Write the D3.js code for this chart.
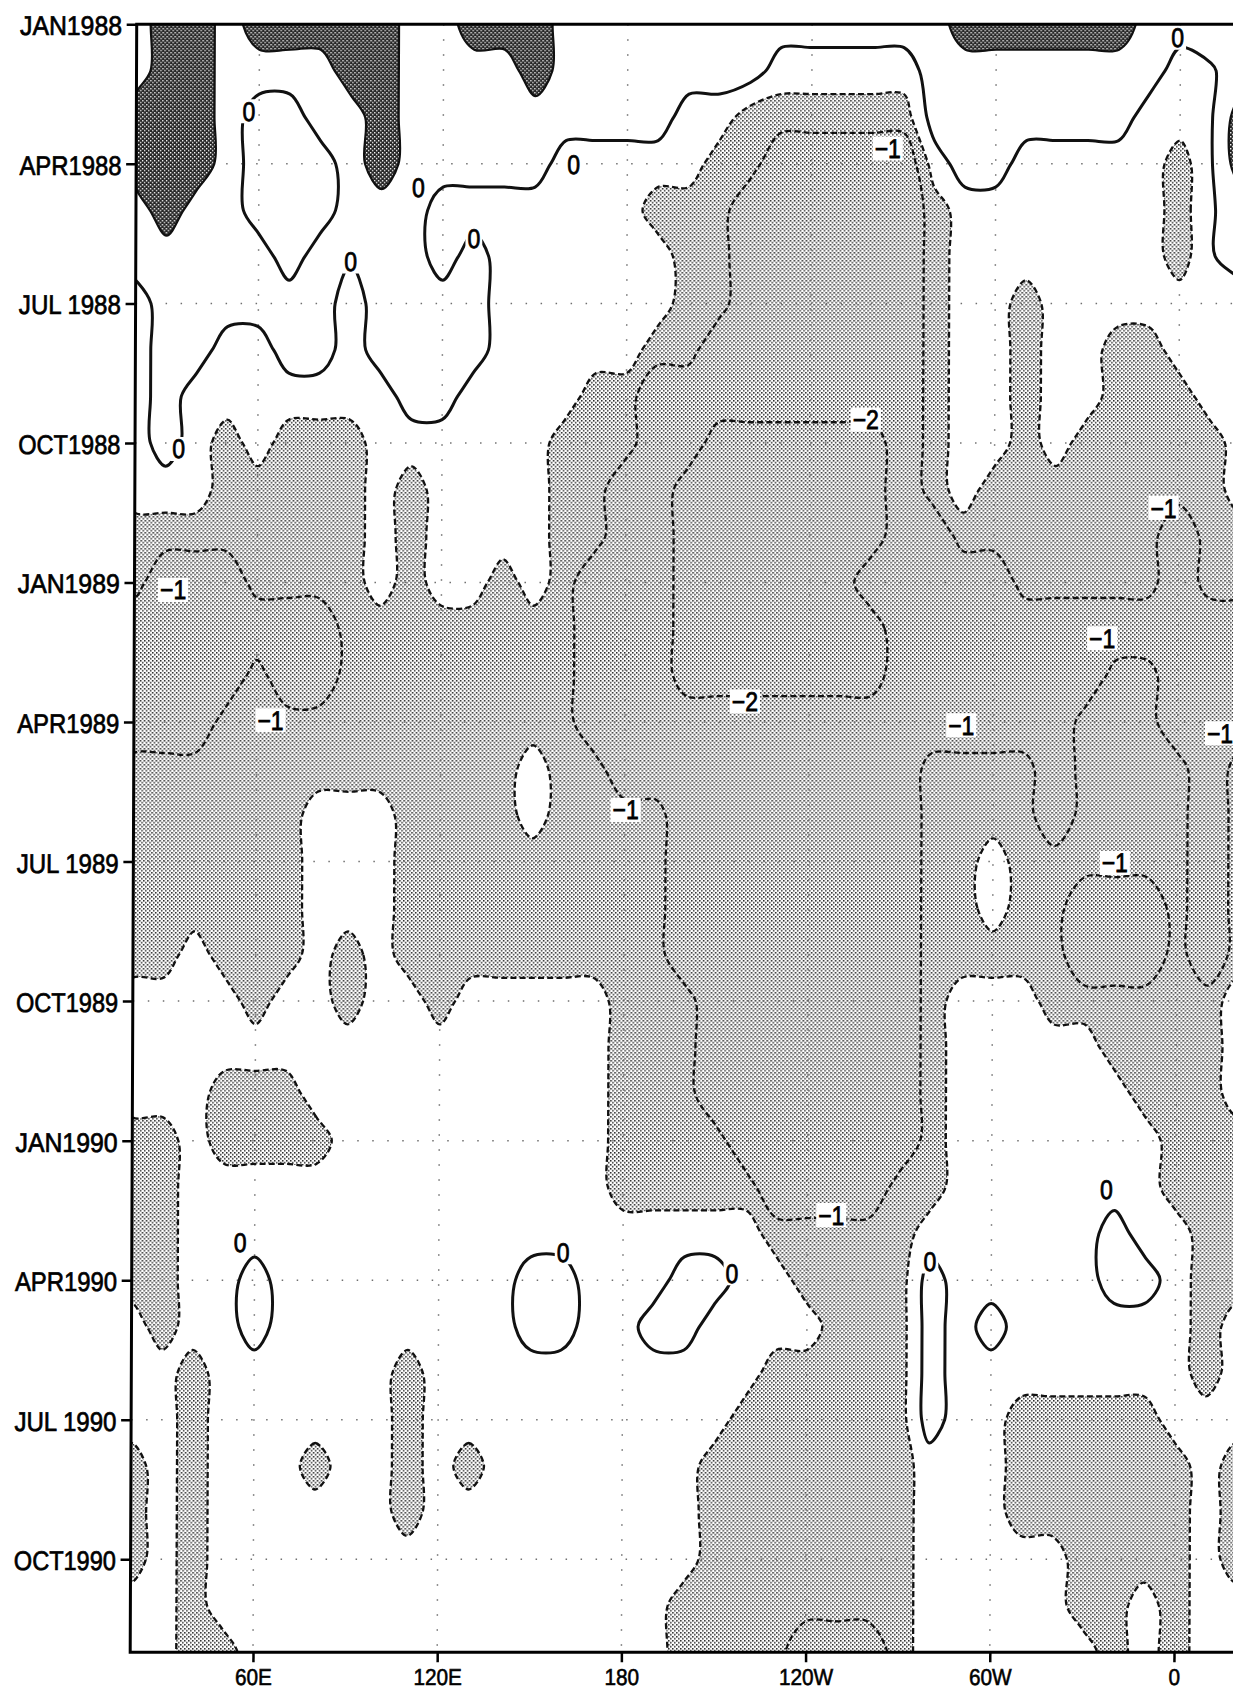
<!DOCTYPE html>
<html>
<head>
<meta charset="utf-8">
<script src="https://cdn.jsdelivr.net/npm/d3@7"></script>
<style>
  html, body { margin: 0; padding: 0; background: #ffffff; }
  svg { display: block; }
  text { font-family: "Liberation Sans", Arial, "DejaVu Sans", sans-serif; fill: #000; }
</style>
</head>
<body>
<svg id="chart" width="1233" height="1697"></svg>
<script>
// ---------------------------------------------------------------
// Longitude–time section of a monthly anomaly field, Jan 1988 – Dec 1990.
// Grid columns: 20E, 30E, ... 370E (10° step, wraps around the globe).
// Grid rows: one per month, starting January 1988.
// Each character codes the anomaly class of a grid point.
// ---------------------------------------------------------------
const lonStart = 20;
const lonStep = 10;
const lonEnd = 380;

const levelCodes  = ["X",  "x",  "o",   ".",   "-",   ",",  "+",  "#"];
const levelValues = [-2.4, -1.5, -0.75, -0.25, -0.05, 0.05, 0.25, 0.8];

const fieldRows = [
  "+##+#####++###+++++++++++++######+++", // 1988 Jan
  "+##++++##++++#+++++++.....++++++++.-",
  "###+..++#+++++++++..oooooo+++++++..-",
  "###+...+#+++++.....ooxxxxx.++.....o-", // Apr
  "+#++...+++.......oooxxxxxxo.......o-",
  "+++++.+,++.+......ooxxxxxxo.......o-",
  ".++++++.++++......ooxxxxxxo..o......", // Jul
  ".++..++.++++.....ooxxxxxxxo..o..oo..",
  ".+.......++....ooxxxxxxxxxo..o..ooo.",
  ".+.o.ooo......oooxxXXXXXXxo..o.ooooo", // Oct
  "...ooooo.o....ooxxXXXXXXXxo.oooooooo",
  "oooooooo.o....ooxxXXXXXXXxxoooooooxo",
  "oxxxoooo.o..o.oxxxXXXXXXxxxxxoooooxo", // 1989 Jan
  "xxxxxxxooooooooxxxXXXXXXXxxxxxxxxxxx",
  "xxxxoxxooooooooxxxXXXXXXXxxxxxxxooxx",
  "xxxooooooooooooxxxxxxxxxxxxxxxxoooxx", // Apr
  "ooooooooooooo.ooxxxxxxxxxxooooxoooox",
  "oooooo...oooo.ooooxxxxxxxxooooxoooox",
  "oooooo...oooooooooxxxxxxxxoo.oooooox", // Jul
  "oooooo...oooooooooxxxxxxxxoo.ooxxxox",
  "oo.ooo.o.oooooooooxxxxxxxxoooooxxxox",
  "....o..o..o.....oooxxxxxxxo...oooooo", // Oct
  "................oooxxxxxxxo.....oooo",
  "...ooo..........oooxxxxxxxo......ooo",
  "oo.oooo.........ooooxxxxxxo.......oo", // 1990 Jan
  "oo..............oooooxxxxoo.......oo",
  "oo...................ooooo......+..o",
  "oo..+........++...++..oooo+.....++.o", // Apr
  ".o..+........++..++....ooo+.+......o",
  "..o......o...........ooooo+........o",
  "..o......o..........oooooo+..ooooo..", // Jul
  "o.o...o..o.o.......ooooooo...oooooo.",
  "o.o......o.........ooooooo...oooooo.",
  "o.o................ooooooo.....oooo.", // Oct
  "..o...............oooooooo.....oo.o.",
  "..oo..............ooooxxxo......o.o."
];

// Axis ticks
const timeTickMonths = [0, 3, 6, 9, 12, 15, 18, 21, 24, 27, 30, 33];
const timeTickLabels = ["JAN1988", "APR1988", "JUL 1988", "OCT1988",
                        "JAN1989", "APR1989", "JUL 1989", "OCT1989",
                        "JAN1990", "APR1990", "JUL 1990", "OCT1990"];
const lonTicks = [60, 120, 180, 240, 300, 360];
const lonTickLabels = ["60E", "120E", "180", "120W", "60W", "0"];

// Inline contour labels (longitude in degrees east, month index from Jan 1988)
const labelLon   = [56.7, 112, 90, 130.1, 162.5, 34.2, 359.1,
                    264.8, 258, 219, 355.1, 335.3, 289.5, 373.8, 339.7,
                    32.6, 64.5, 180.3, 247.8,
                    55.3, 160.5, 215.5, 280, 337.4];
const labelMonth = [1.87, 3.5, 5.1, 4.6, 3.01, 9.13, 0.29,
                    2.67, 8.5, 14.56, 10.4, 13.2, 15.07, 15.24, 18.03,
                    12.16, 14.96, 16.89, 25.6,
                    26.2, 26.4, 26.85, 26.6, 25.06];
const labelText  = ["0", "0", "0", "0", "0", "0", "0",
                    "\u22121", "\u22122", "\u22122", "\u22121", "\u22121", "\u22121", "\u22121", "\u22121",
                    "\u22121", "\u22121", "\u22121", "\u22121",
                    "0", "0", "0", "0", "0"];

// ---------------------------------------------------------------
const x0 = 130.2, x1 = 1235.4, y0 = 24.3, y1 = 1652.3;
const nMonths = fieldRows.length;

const xScale = d3.scaleLinear().domain([lonStart, lonEnd]).range([x0, x1]);
const yScale = d3.scaleLinear().domain([0, nMonths - 1]).range([y0, y1]);

const svg = d3.select("#chart");
const defs = svg.append("defs");

function stipple(id, bg, dot, size) {
  const p = defs.append("pattern")
    .attr("id", id).attr("patternUnits", "userSpaceOnUse")
    .attr("width", 4).attr("height", 4);
  p.append("rect").attr("width", 4).attr("height", 4).attr("fill", bg);
  p.append("rect").attr("x", 0).attr("y", 0).attr("width", size).attr("height", size).attr("fill", dot);
  p.append("rect").attr("x", 2).attr("y", 2).attr("width", size).attr("height", size).attr("fill", dot);
}
stipple("lightStipple", "#ffffff", "#2a2a2a", 1.55);
stipple("darkStipple", "#262626", "#ffffff", 1.35);

defs.append("clipPath").attr("id", "plotClip")
  .append("rect").attr("x", x0).attr("y", y0)
  .attr("width", x1 - x0).attr("height", y1 - y0);

// slight shear of the whole figure
const k = 0.004;
const root = svg.append("g")
  .attr("transform", `translate(${k * y1},0) skewX(${-Math.atan(k) * 180 / Math.PI})`);

// ---- field grid (padded by one point on every side, longitudes wrap) ----
const nCols = fieldRows[0].length;            // 36 distinct longitudes
const padW = nCols + 3;                       // columns -1 .. 37
const padH = nMonths + 2;                     // rows -1 .. nMonths
function gridValue(r, c) {
  const rr = Math.max(0, Math.min(nMonths - 1, r));
  const cc = ((c % nCols) + nCols) % nCols;
  return levelValues[levelCodes.indexOf(fieldRows[rr][cc])];
}
const values = new Array(padW * padH);
for (let q = 0; q < padH; q++) {
  for (let p = 0; p < padW; p++) {
    values[q * padW + p] = gridValue(q - 1, p - 1);
  }
}
const negValues = values.map(v => -v);

const contourGen = d3.contours().size([padW, padH]).smooth(true);
const below05 = contourGen.contour(negValues, 0.5);
const below1  = contourGen.contour(negValues, 1);
const below2  = contourGen.contour(negValues, 2);
const above0  = contourGen.contour(values, 0);
const above05 = contourGen.contour(values, 0.5);

// contour rings -> smooth closed paths in screen space
const ringLine = d3.line().curve(d3.curveCatmullRomClosed.alpha(0.5));
function contourPath(mp) {
  let d = "";
  mp.coordinates.forEach(poly => poly.forEach(ring => {
    const pts = ring.slice(0, -1).map(([cx, cy]) =>
      [xScale(lonStart + lonStep * (cx - 1.5)), yScale(cy - 1.5)]);
    if (pts.length > 2) d += ringLine(pts);
  }));
  return d;
}

const plot = root.append("g").attr("clip-path", "url(#plotClip)");

// shading
plot.append("path").attr("d", contourPath(below05))
  .attr("fill", "url(#lightStipple)").attr("fill-rule", "evenodd");
plot.append("path").attr("d", contourPath(above05))
  .attr("fill", "url(#darkStipple)").attr("fill-rule", "evenodd");

// dotted grid
const grid = plot.append("g")
  .attr("stroke", "#6f6f6f").attr("stroke-width", 1.5)
  .attr("stroke-dasharray", "1.5,13.5").attr("fill", "none");
grid.selectAll("line.v").data(lonTicks).join("line").attr("class", "v")
  .attr("x1", d => xScale(d)).attr("x2", d => xScale(d))
  .attr("y1", y0).attr("y2", y1);
grid.selectAll("line.h").data(timeTickMonths.slice(1)).join("line").attr("class", "h")
  .attr("x1", x0).attr("x2", x1)
  .attr("y1", d => yScale(d)).attr("y2", d => yScale(d));

// contour lines
[below05, below1, below2].forEach(c => {
  plot.append("path").attr("d", contourPath(c))
    .attr("fill", "none").attr("stroke", "#111")
    .attr("stroke-width", 2.3).attr("stroke-dasharray", "6,3.2")
    .attr("stroke-linejoin", "round");
});
plot.append("path").attr("d", contourPath(above05))
  .attr("fill", "none").attr("stroke", "#111").attr("stroke-width", 2.2)
  .attr("stroke-linejoin", "round");
plot.append("path").attr("d", contourPath(above0))
  .attr("fill", "none").attr("stroke", "#111").attr("stroke-width", 3)
  .attr("stroke-linejoin", "round");

// inline labels
const labG = plot.append("g");
labelText.forEach((t, i) => {
  const g = labG.append("g")
    .attr("transform", `translate(${xScale(labelLon[i])},${yScale(labelMonth[i])})`);
  const rect = g.append("rect").attr("fill", "#fff");
  const txt = g.append("text")
    .attr("text-anchor", "middle").attr("y", 9.5)
    .attr("font-size", 27)
    .attr("stroke", "#000").attr("stroke-width", 0.8)
    .text(t);
  const w = txt.node().getComputedTextLength() * 0.85;
  txt.attr("textLength", w).attr("lengthAdjust", "spacingAndGlyphs");
  rect.attr("x", -w / 2 - 2).attr("y", -12).attr("width", w + 4).attr("height", 24);
});

// frame
root.append("rect")
  .attr("x", x0).attr("y", y0).attr("width", x1 - x0).attr("height", y1 - y0)
  .attr("fill", "none").attr("stroke", "#000").attr("stroke-width", 3);

// left axis: ticks from the scale, labels set as condensed text
const yAxis = d3.axisLeft(yScale).tickValues(timeTickMonths).tickSize(10)
  .tickFormat((d, i) => timeTickLabels[i]);
const yAxisG = root.append("g").attr("transform", `translate(${x0},0)`).call(yAxis);
yAxisG.select(".domain").remove();
yAxisG.selectAll(".tick line").attr("stroke", "#000").attr("stroke-width", 2.5);
yAxisG.selectAll(".tick text")
  .attr("font-size", 27).attr("font-family", null)
  .attr("stroke", "#000").attr("stroke-width", 0.7)
  .attr("x", -14.7).attr("dy", null).attr("y", 10.5)
  .attr("textLength", 102).attr("lengthAdjust", "spacingAndGlyphs");

// bottom axis
const xAxis = d3.axisBottom(xScale).tickValues(lonTicks).tickSize(10)
  .tickFormat((d, i) => lonTickLabels[i]);
const xAxisG = root.append("g").attr("transform", `translate(0,${y1})`).call(xAxis);
xAxisG.select(".domain").remove();
xAxisG.selectAll(".tick line").attr("stroke", "#000").attr("stroke-width", 2.5);
xAxisG.selectAll(".tick text")
  .attr("font-size", 23).attr("font-family", null)
  .attr("stroke", "#000").attr("stroke-width", 0.6)
  .attr("y", 0).attr("dy", null)
  .attr("transform", "translate(0,33)")
  .each(function () {
    const w = this.getComputedTextLength() * 0.9;
    d3.select(this).attr("textLength", w).attr("lengthAdjust", "spacingAndGlyphs");
  });
</script>
</body>
</html>
